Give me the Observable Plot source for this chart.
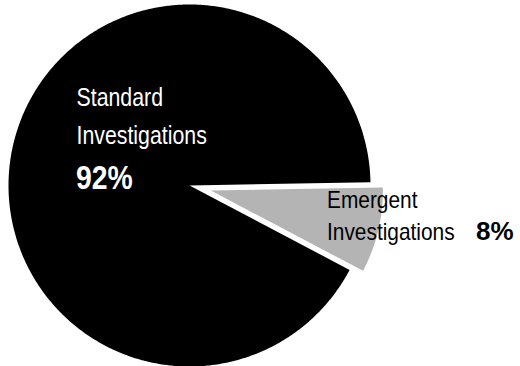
<!DOCTYPE html>
<html>
<head>
<meta charset="utf-8">
<script src="https://cdn.jsdelivr.net/npm/d3@7"></script>
<script src="https://cdn.jsdelivr.net/npm/@observablehq/plot@0.6"></script>
<style>
  html, body { margin: 0; padding: 0; background: #fff; }
  #chart { width: 520px; height: 366px; }
</style>
</head>
<body>
<div id="chart"></div>
<script>
// ---- data ----
const categories = ["Standard Investigations", "Emergent Investigations"];
const shares = [92, 8];
const nameLines = [["Standard", "Investigations"], ["Emergent", "Investigations"]];
const pctLabels = ["92%", "8%"];

// ---- styling / layout ----
const W = 520, H = 366;
const cx = 189, cy = 185;          // pie centre in px
const radii = [181, 172];
const explode = [0, 22];
const colors = ["#000000", "#b4b4b4"];
const FONT = "'Liberation Sans', Arial, sans-serif";

const pie = d3.pie().sort(null).startAngle(117.8 * Math.PI / 180).endAngle((117.8 + 360) * Math.PI / 180);
const arcs = pie(shares);

// polygon points for each slice, computed from the pie angles
const slices = arcs.map((a, i) => {
  const mid = (a.startAngle + a.endAngle) / 2;
  const ox = explode[i] * Math.sin(mid), oy = -explode[i] * Math.cos(mid);
  const pts = [{cat: categories[i], x: ox, y: oy}];
  const n = Math.max(8, Math.ceil((a.endAngle - a.startAngle) / (Math.PI / 360)));
  for (let k = 0; k <= n; k++) {
    const t = a.startAngle + (a.endAngle - a.startAngle) * k / n;
    pts.push({cat: categories[i], x: ox + radii[i] * Math.sin(t), y: oy - radii[i] * Math.cos(t)});
  }
  pts.push({cat: categories[i], x: ox, y: oy});
  return pts;
});

// label layout (px relative to centre); sx = horizontal condensing of the narrow face
const labels = [
  {lines: nameLines[0], x: -113, y: [-79.5, -42], size: 26, sx: 0.82, color: "#fff",
   pct: pctLabels[0], px: -113.5, py: 3.3, psize: 33, psx: 0.86, pweight: "bold"},
  {lines: nameLines[1], x: 137.5, y: [22.7, 54], size: 24, sx: 0.87, color: "#000",
   pct: pctLabels[1], px: 286.5, py: 54, psize: 25, psx: 1.04, pweight: "bold"}
];

const marks = [];
const scalesX = [];
slices.forEach((pts, i) => {
  marks.push(Plot.line(pts, {x: "x", y: "y", fill: colors[i], stroke: "none", curve: "linear"}));
});
labels.forEach(l => {
  l.lines.forEach((txt, j) => {
    marks.push(Plot.text([txt], {x: () => l.x, y: () => l.y[j], text: d => d, textAnchor: "start", lineAnchor: "bottom",
      fill: l.color, fontSize: l.size, fontFamily: FONT}));
    scalesX.push(l.sx);
  });
  marks.push(Plot.text([l.pct], {x: () => l.px, y: () => l.py, text: d => d, textAnchor: "start", lineAnchor: "bottom",
    fill: l.color, fontSize: l.psize, fontWeight: l.pweight, fontFamily: FONT}));
  scalesX.push(l.psx);
});

const chart = Plot.plot({
  width: W, height: H,
  margin: 0,
  x: {domain: [-cx, W - cx], range: [0, W], axis: null},
  y: {domain: [-cy, H - cy], range: [0, H], axis: null},
  style: {background: "#fff", overflow: "visible"},
  marks
});

// condense the text horizontally (narrow typeface look), scaling about each anchor
d3.select(chart).selectAll("text").each(function(_, i) {
  const s = scalesX[i];
  if (s == null) return;
  const el = d3.select(this);
  let tr = el.attr("transform");
  if (!tr) {
    const x = +el.attr("x") || 0, y = +el.attr("y") || 0;
    el.attr("x", null).attr("y", null);
    tr = `translate(${x},${y})`;
  }
  el.attr("transform", `${tr} scale(${s},1)`);
});

document.getElementById("chart").appendChild(chart);
</script>
</body>
</html>
